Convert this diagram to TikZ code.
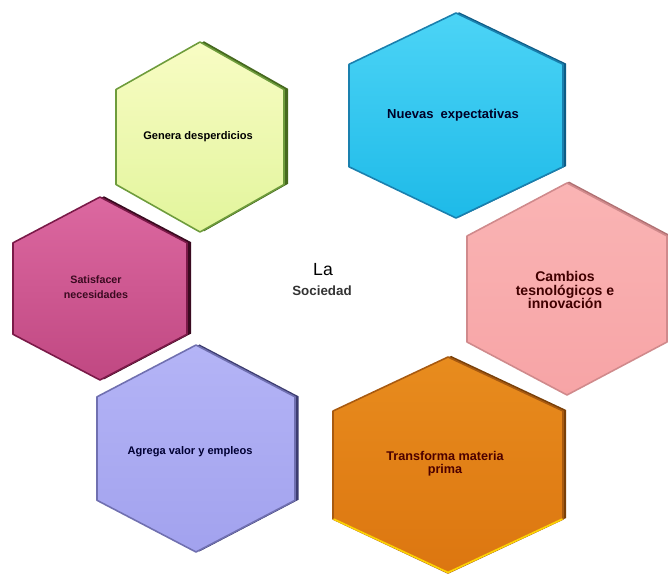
\documentclass[tikz,border=0pt]{standalone}
\usepackage{xcolor}
\usepackage{fontspec}
\setmainfont{Liberation Sans}
\usetikzlibrary{shadows}

\definecolor{grtop}{HTML}{F8FCC4}
\definecolor{grbot}{HTML}{E2F59C}
\definecolor{grline}{HTML}{6E9C3C}
\definecolor{grdark}{HTML}{46691E}
\definecolor{bltop}{HTML}{4CD4F6}
\definecolor{blbot}{HTML}{1EBAE8}
\definecolor{blline}{HTML}{1A80AE}
\definecolor{bldark}{HTML}{0E5C86}
\definecolor{pktop}{HTML}{FAB4B4}
\definecolor{pkbot}{HTML}{F7A4A6}
\definecolor{pkline}{HTML}{D08A8C}
\definecolor{pkdark}{HTML}{B07072}
\definecolor{ortop}{HTML}{E88C1E}
\definecolor{orbot}{HTML}{DC7610}
\definecolor{orline}{HTML}{A85A10}
\definecolor{ordark}{HTML}{7A4008}
\definecolor{putop}{HTML}{B4B4F6}
\definecolor{pubot}{HTML}{A2A2EE}
\definecolor{puline}{HTML}{7070B0}
\definecolor{pudark}{HTML}{3C3C70}
\definecolor{mgtop}{HTML}{DC68A0}
\definecolor{mgbot}{HTML}{C04882}
\definecolor{mgline}{HTML}{7A1A48}
\definecolor{mgdark}{HTML}{3A0A20}

\begin{document}
\begin{tikzpicture}[x=0.02cm, y=-0.02cm,
    hexa/.style={line width=0.9pt, line join=round},
    lbl/.style={align=center, inner sep=0pt, font=\bfseries\fontsize{6.3}{8}\selectfont}]
    \useasboundingbox (0,0) rectangle (668,575);

    % Genera desperdicios
    \draw[hexa, draw=grline, top color=grtop, bottom color=grbot,
        general shadow={fill=grdark, shadow xshift=2.3pt, shadow yshift=0.4pt}]
        (116,89.5) -- (200,42) -- (284,89.5) -- (284,184.5) -- (200,232) -- (116,184.5) -- cycle;
    \node[lbl, text=black] (genera) at (198,137) {Genera desperdicios};

    % Nuevas expectativas
    \draw[hexa, draw=blline, top color=bltop, bottom color=blbot,
        general shadow={fill=bldark, shadow xshift=1.8pt, shadow yshift=0.4pt}]
        (349,64.3) -- (456,13) -- (563,64.3) -- (563,166.8) -- (456,218) -- (349,166.8) -- cycle;
    \node[lbl, text=black!85!blue, font=\bfseries\fontsize{7.4}{9}\selectfont] (nuevas) at (453,115) {Nuevas\ \ expectativas};

    % Cambios tesnologicos e innovacion
    \draw[hexa, draw=pkline, top color=pktop, bottom color=pkbot,
        general shadow={fill=pkdark, shadow xshift=1.2pt, shadow yshift=0.8pt}]
        (467,236) -- (567,183) -- (667,236) -- (667,342) -- (567,395) -- (467,342) -- cycle;
    \node[lbl, text=black!75!red, font=\bfseries\fontsize{8}{7.7}\selectfont] (cambios) at (565,290) {Cambios\\tesnológicos e\\innovación};

    % Transforma materia prima
    \draw[hexa, draw=orline, top color=ortop, bottom color=orbot,
        general shadow={fill=ordark, shadow xshift=1.8pt, shadow yshift=0.6pt}]
        (333,411) -- (448,357) -- (563,411) -- (563,519) -- (448,573) -- (333,519) -- cycle;
    \draw[line width=1pt, draw=yellow!70!orange] (333.5,519) -- (448,572.5) -- (562.5,519);
    \node[lbl, text=black!70!red, font=\bfseries\fontsize{7.2}{7.4}\selectfont] (transforma) at (445,463.5) {Transforma materia\\prima};

    % Agrega valor y empleos
    \draw[hexa, draw=puline, top color=putop, bottom color=pubot,
        general shadow={fill=pudark, shadow xshift=2pt, shadow yshift=0.3pt}]
        (97,396.8) -- (196,345) -- (295,396.8) -- (295,500.3) -- (196,552) -- (97,500.3) -- cycle;
    \node[lbl, text=black!80!blue] (agrega) at (190,452) {Agrega valor y empleos};

    % Satisfacer necesidades
    \draw[hexa, draw=mgline, top color=mgtop, bottom color=mgbot,
        general shadow={fill=mgdark, shadow xshift=2.3pt, shadow yshift=0.4pt}]
        (13,242.8) -- (100,197) -- (187,242.8) -- (187,334.3) -- (100,380) -- (13,334.3) -- cycle;
    \node[lbl, text=mgdark, font=\bfseries\fontsize{6.1}{8.5}\selectfont] (satisfacer) at (96,287.5) {Satisfacer\\necesidades};

    % Centro
    \node[inner sep=0pt, font=\fontsize{10}{12}\selectfont] (la) at (323,270) {La};
    \node[inner sep=0pt, font=\bfseries\fontsize{7.6}{9}\selectfont, text=black!80] (sociedad) at (322,291) {Sociedad};
\end{tikzpicture}
\end{document}
